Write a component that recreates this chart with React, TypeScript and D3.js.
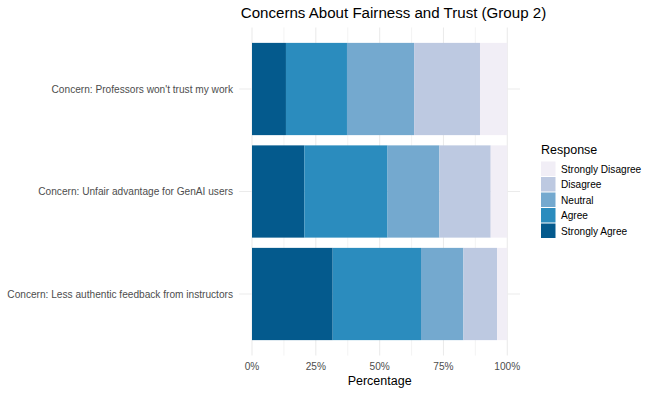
import React from 'react';
import * as d3 from 'd3';

const categories = [
  "Concern: Professors won't trust my work",
  'Concern: Unfair advantage for GenAI users',
  'Concern: Less authentic feedback from instructors',
];
const responses = ['Strongly Agree', 'Agree', 'Neutral', 'Disagree', 'Strongly Disagree'];
const legendOrder = ['Strongly Disagree', 'Disagree', 'Neutral', 'Agree', 'Strongly Agree'];
const colors = ['#045a8d', '#2b8cbe', '#74a9cf', '#bdc9e1', '#f1eef6'];

// shares per category, in the order of `responses`
const stronglyAgree = [0.133, 0.205, 0.316];
const agree = [0.239, 0.326, 0.346];
const neutral = [0.263, 0.203, 0.166];
const disagree = [0.258, 0.201, 0.132];
const stronglyDisagree = [0.107, 0.065, 0.04];

const xTicks = [0, 0.25, 0.5, 0.75, 1];
const xMinor = [0.125, 0.375, 0.625, 0.875];

const W = 656;
const H = 394;
const font = "'Liberation Sans', Arial, Helvetica, sans-serif";

const App = () => {
  const rows = categories.map((c, i) => ({
    category: c,
    'Strongly Agree': stronglyAgree[i],
    Agree: agree[i],
    Neutral: neutral[i],
    Disagree: disagree[i],
    'Strongly Disagree': stronglyDisagree[i],
  }));

  const stack = d3.stack<any>().keys(responses);
  const series = stack(rows);

  const x = d3.scaleLinear().domain([0, 1]).range([252, 507.3]);
  const panelLeft = x(-0.05);
  const panelRight = x(1.05);
  const panelTop = 27.5;
  const panelBottom = 355.5;

  const y = d3.scaleBand<string>()
    .domain(categories)
    .range([panelTop, panelBottom])
    .paddingInner(0.1)
    .paddingOuter(0.15);

  const color = d3.scaleOrdinal<string, string>().domain(responses).range(colors);

  const grid = '#ebebeb';

  return (
    <svg width={W} height={H} style={{ position: 'absolute', left: 0, top: 0, fontFamily: font }}>
      <rect width={W} height={H} fill="white" />

      {/* grid */}
      {xMinor.map(t => (
        <line key={'m' + t} x1={x(t)} x2={x(t)} y1={panelTop} y2={panelBottom} stroke={grid} strokeWidth={0.6} />
      ))}
      {xTicks.map(t => (
        <line key={'g' + t} x1={x(t)} x2={x(t)} y1={panelTop} y2={panelBottom} stroke={grid} strokeWidth={1.1} />
      ))}
      {categories.map(c => (
        <line key={'h' + c} x1={panelLeft} x2={panelRight}
          y1={y(c)! + y.bandwidth() / 2} y2={y(c)! + y.bandwidth() / 2} stroke={grid} strokeWidth={1.1} />
      ))}

      {/* bars */}
      {series.map(s => (
        <g key={s.key} fill={color(s.key)}>
          {s.map((d, i) => (
            <rect key={i} x={x(d[0])} y={y(d.data.category)} width={x(d[1]) - x(d[0])} height={y.bandwidth()} />
          ))}
        </g>
      ))}

      {/* y axis labels */}
      {categories.map(c => (
        <text key={'yl' + c} x={233} y={y(c)! + y.bandwidth() / 2} dy="0.35em" textAnchor="end"
          fontSize={10.15} fill="#4d4d4d">{c}</text>
      ))}

      {/* x axis labels */}
      {xTicks.map(t => (
        <text key={'xl' + t} x={x(t)} y={366} dy="0.35em" textAnchor="middle" fontSize={10.15} fill="#4d4d4d">
          {d3.format('.0%')(t)}
        </text>
      ))}
      <text x={(panelLeft + panelRight) / 2} y={381} dy="0.35em" textAnchor="middle" fontSize={12.5} fill="black">
        Percentage
      </text>

      {/* title */}
      <text x={393.5} y={12.5} dy="0.35em" textAnchor="middle" fontSize={15.1} fill="black">
        Concerns About Fairness and Trust (Group 2)
      </text>

      {/* legend */}
      <text x={541} y={150} dy="0.35em" fontSize={12.5} fill="black">Response</text>
      {legendOrder.map((r, i) => (
        <g key={'lg' + r} transform={`translate(541, ${161.5 + i * 15.5})`}>
          <rect width={14.5} height={14.5} fill={color(r)} />
          <text x={20} y={7.5} dy="0.35em" fontSize={10.1} fill="black">{r}</text>
        </g>
      ))}
    </svg>
  );
};

export default App;
